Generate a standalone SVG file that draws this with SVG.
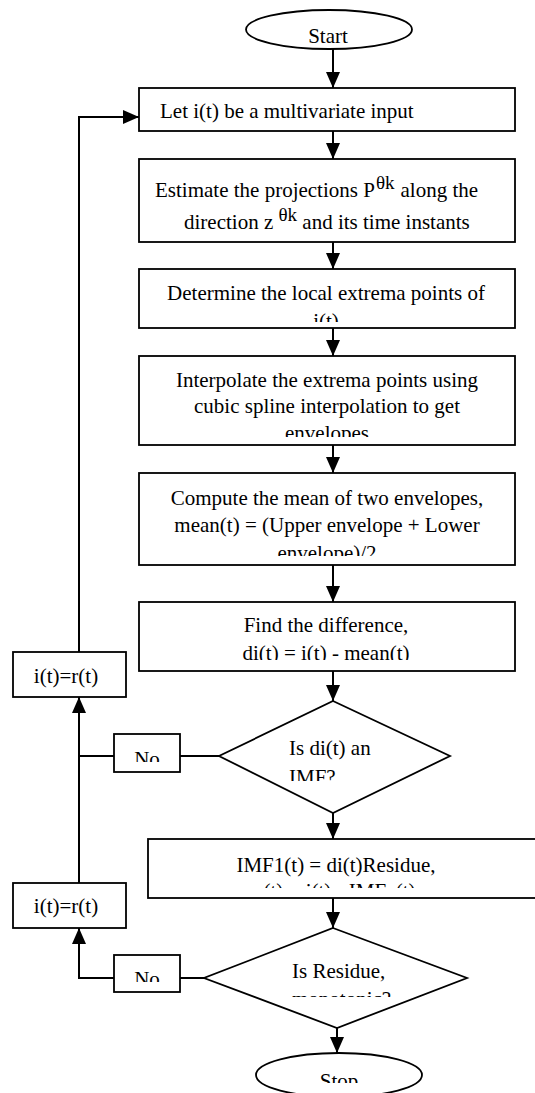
<svg xmlns="http://www.w3.org/2000/svg" width="535" height="1093" viewBox="0 0 535 1093">
<defs>
<style>
.n{fill:#fff;stroke:#000;stroke-width:1.8}
.t{font-family:"Liberation Serif","Times New Roman",serif;font-size:21px;fill:#000}
.m{text-anchor:middle}
.c{fill:none;stroke:#000;stroke-width:2}
.sup{font-size:19px}
</style>
<marker id="ah" markerUnits="userSpaceOnUse" markerWidth="16" markerHeight="16" viewBox="0 0 16 16" refX="16" refY="8" orient="auto">
<path d="M0,1 L16,8 L0,15 Z" fill="#000"/>
</marker>
<clipPath id="k3"><rect x="139" y="269" width="376" height="53"/></clipPath>
<clipPath id="k4"><rect x="139" y="356" width="376" height="81"/></clipPath>
<clipPath id="k5"><rect x="139" y="473" width="376" height="83"/></clipPath>
<clipPath id="k6"><rect x="139" y="602" width="376" height="58"/></clipPath>
<clipPath id="k7"><rect x="148" y="839" width="390" height="49"/></clipPath>
<clipPath id="kd1"><rect x="219" y="700" width="232" height="81"/></clipPath>
<clipPath id="kd2"><rect x="204" y="928" width="264" height="69"/></clipPath>
<clipPath id="kn1"><rect x="114" y="734" width="66" height="28"/></clipPath>
<clipPath id="kn2"><rect x="114" y="955" width="66" height="27"/></clipPath>
<clipPath id="ks"><rect x="250" y="1050" width="180" height="33"/></clipPath>
</defs>
<g id="connectors">
<line class="c" x1="333" y1="49" x2="333" y2="88" marker-end="url(#ah)"/>
<line class="c" x1="333" y1="131" x2="333" y2="159" marker-end="url(#ah)"/>
<line class="c" x1="333" y1="242" x2="333" y2="269" marker-end="url(#ah)"/>
<line class="c" x1="333" y1="328" x2="333" y2="356" marker-end="url(#ah)"/>
<line class="c" x1="333" y1="445" x2="333" y2="473" marker-end="url(#ah)"/>
<line class="c" x1="333" y1="565" x2="333" y2="602" marker-end="url(#ah)"/>
<line class="c" x1="333" y1="671" x2="333" y2="701" marker-end="url(#ah)"/>
<line class="c" x1="333" y1="813" x2="333" y2="839" marker-end="url(#ah)"/>
<line class="c" x1="333" y1="898" x2="333" y2="928" marker-end="url(#ah)"/>
<line class="c" x1="337" y1="1028" x2="337" y2="1053" marker-end="url(#ah)"/>
<line class="c" x1="219" y1="756" x2="180" y2="756"/>
<line class="c" x1="114" y1="756" x2="79" y2="756"/>
<path class="c" d="M79,883 V697" marker-end="url(#ah)"/>
<line class="c" x1="204" y1="978" x2="180" y2="978"/>
<path class="c" d="M114,978 H79 V928" marker-end="url(#ah)"/>
<path class="c" d="M79,652 V117 H139" marker-end="url(#ah)"/>
</g>
<g id="start">
<ellipse class="n" cx="329" cy="29.5" rx="83" ry="19.5"/>
<text class="t m" x="328" y="43">Start</text>
</g>
<g id="input">
<rect class="n" x="139" y="88" width="376" height="43"/>
<text class="t" x="160" y="118">Let i(t) be a multivariate input</text>
</g>
<g id="projections">
<rect class="n" x="139" y="159" width="376" height="83"/>
<text class="t" x="155" y="197">Estimate the projections P<tspan class="sup" dx="1" dy="-8">θk</tspan><tspan dx="6" dy="8">along the</tspan></text>
<text class="t" x="184" y="229">direction z <tspan class="sup" dy="-8">θk</tspan><tspan dy="8"> and its time instants</tspan></text>
</g>
<g id="extrema">
<rect class="n" x="139" y="269" width="376" height="59"/>
<g clip-path="url(#k3)">
<text class="t m" x="326" y="300">Determine the local extrema points of</text>
<text class="t m" x="326" y="328">i(t)</text>
</g>
</g>
<g id="interpolate">
<rect class="n" x="139" y="356" width="376" height="89"/>
<g clip-path="url(#k4)">
<text class="t m" x="327" y="387">Interpolate the extrema points using</text>
<text class="t m" x="327" y="413">cubic spline interpolation to get</text>
<text class="t m" x="327" y="440">envelopes</text>
</g>
</g>
<g id="mean">
<rect class="n" x="139" y="473" width="376" height="92"/>
<g clip-path="url(#k5)">
<text class="t m" x="327" y="505">Compute the mean of two envelopes,</text>
<text class="t m" x="327" y="532">mean(t) = (Upper envelope + Lower</text>
<text class="t m" x="327" y="560">envelope)/2</text>
</g>
</g>
<g id="difference">
<rect class="n" x="139" y="602" width="376" height="69"/>
<g clip-path="url(#k6)">
<text class="t m" x="326" y="632">Find the difference,</text>
<text class="t m" x="326" y="660">di(t) = i(t) - mean(t)</text>
</g>
</g>
<g id="isimf">
<polygon class="n" points="333,701 450,756 333,813 219,756"/>
<g clip-path="url(#kd1)">
<text class="t" x="289" y="755">Is di(t) an</text>
<text class="t" x="289" y="784">IMF?</text>
</g>
</g>
<g id="residue">
<rect class="n" x="148" y="839" width="400" height="59"/>
<g clip-path="url(#k7)">
<text class="t m" x="336" y="872">IMF1(t) = di(t)Residue,</text>
<text class="t m" x="336" y="898">r(t) = i(t) - IMF<tspan class="sup" dy="5">1</tspan><tspan dy="-5">(t)</tspan></text>
</g>
</g>
<g id="monotonic">
<polygon class="n" points="333,928 467,978 337,1028 204,978"/>
<g clip-path="url(#kd2)">
<text class="t" x="292" y="978">Is Residue,</text>
<text class="t" x="292" y="1006">monotonic?</text>
</g>
</g>
<g id="stop">
<ellipse class="n" cx="339" cy="1075" rx="83" ry="22"/>
<g clip-path="url(#ks)">
<text class="t m" x="339" y="1088">Stop</text>
</g>
</g>
<g id="reset1">
<rect class="n" x="13" y="652" width="113" height="45"/>
<text class="t m" x="66" y="683">i(t)=r(t)</text>
</g>
<g id="reset2">
<rect class="n" x="13" y="883" width="113" height="45"/>
<text class="t m" x="66" y="913">i(t)=r(t)</text>
</g>
<g id="no1">
<rect class="n" x="114" y="734" width="66" height="38"/>
<g clip-path="url(#kn1)"><text class="t m" x="147" y="766">No</text></g>
</g>
<g id="no2">
<rect class="n" x="114" y="955" width="66" height="37"/>
<g clip-path="url(#kn2)"><text class="t m" x="147" y="986">No</text></g>
</g>
</svg>
